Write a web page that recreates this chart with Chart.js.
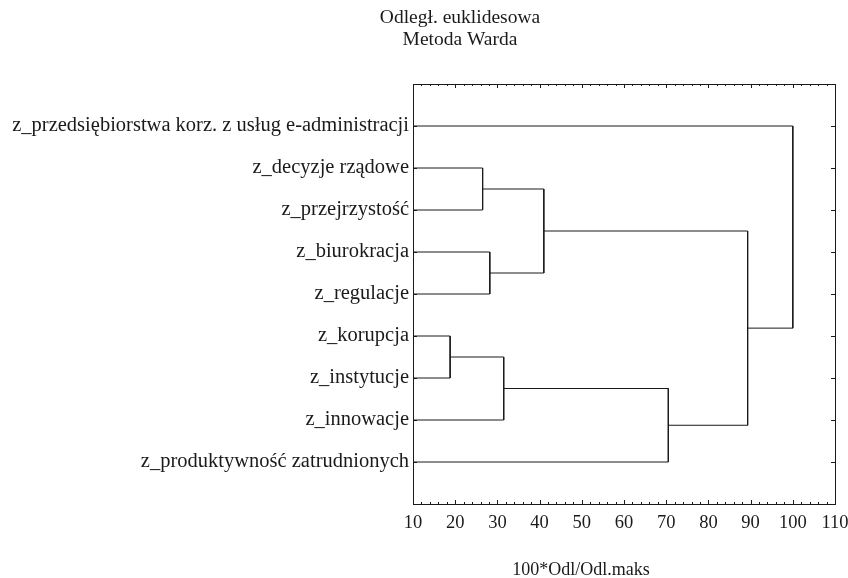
<!DOCTYPE html>
<html lang="pl">
<head>
<meta charset="UTF-8">
<title>Odległ. euklidesowa - Metoda Warda</title>
<script src="https://cdn.jsdelivr.net/npm/chart.js"></script>
<style>
  html, body { margin: 0; padding: 0; background: #fff; }
  #wrap { width: 848px; height: 578px; position: relative; }
</style>
</head>
<body>
<div id="wrap"><canvas id="dendro"></canvas></div>
<script>
  // liście w kolejności od góry
  const leaves = [
    'z_przedsiębiorstwa korz. z usług e-administracji',
    'z_decyzje rządowe',
    'z_przejrzystość',
    'z_biurokracja',
    'z_regulacje',
    'z_korupcja',
    'z_instytucje',
    'z_innowacje',
    'z_produktywność zatrudnionych'
  ];
  // połączenia: węzły 0-8 to liście, kolejne połączenia dostają numery 9, 10, ...
  const mergeLeft  = [5, 1, 3, 9, 10, 12, 13, 0];
  const mergeRight = [6, 2, 4, 7, 11, 8, 14, 15];
  const mergeDist  = [18.8, 26.5, 28.2, 31.5, 41.0, 70.5, 89.3, 100.0];
  const xTicks = [10, 20, 30, 40, 50, 60, 70, 80, 90, 100, 110];
  const titleLines = ['Odległ. euklidesowa', 'Metoda Warda'];
  const xTitle = '100*Odl/Odl.maks';

  const FONT = '"Liberation Serif", "DejaVu Serif", serif';
  const INK = '#1a1a1a';

  // pozycje węzłów
  const nodeY = leaves.map((_, i) => i + 1);
  const nodeH = leaves.map(() => xTicks[0]);
  const datasets = [];
  for (let k = 0; k < mergeDist.length; k++) {
    const a = mergeLeft[k], b = mergeRight[k], h = mergeDist[k];
    datasets.push({
      data: [
        { x: nodeH[a], y: nodeY[a] },
        { x: h, y: nodeY[a] },
        { x: h, y: nodeY[b] },
        { x: nodeH[b], y: nodeY[b] }
      ],
      showLine: true,
      borderColor: INK,
      borderWidth: 1,
      pointRadius: 0,
      tension: 0,
      fill: false
    });
    nodeY.push((nodeY[a] + nodeY[b]) / 2);
    nodeH.push(h);
  }

  // ramka, znaczniki do środka i napisy
  const ramka = {
    id: 'ramka',
    afterDraw(chart) {
      const { ctx, chartArea: ca, scales: { x, y } } = chart;
      ctx.save();
      ctx.strokeStyle = INK;
      ctx.lineWidth = 1;
      ctx.strokeRect(Math.round(ca.left) + 0.5, Math.round(ca.top) + 0.5,
        Math.round(ca.right - ca.left), Math.round(ca.bottom - ca.top));
      ctx.beginPath();
      for (let v = x.min; v <= x.max; v += 2) {
        const px = Math.round(x.getPixelForValue(v)) + 0.5;
        const len = (v % 10 === 0) ? 4 : 2;
        ctx.moveTo(px, ca.top); ctx.lineTo(px, ca.top + len);
        ctx.moveTo(px, ca.bottom); ctx.lineTo(px, ca.bottom - len);
      }
      leaves.forEach((_, i) => {
        const py = Math.round(y.getPixelForValue(i + 1)) + 0.5;
        ctx.moveTo(ca.left, py); ctx.lineTo(ca.left + 4, py);
        ctx.moveTo(ca.right, py); ctx.lineTo(ca.right - 4, py);
      });
      ctx.stroke();

      ctx.fillStyle = INK;
      ctx.textAlign = 'center';
      ctx.textBaseline = 'middle';
      ctx.font = '19.5px ' + FONT;
      titleLines.forEach((t, i) => ctx.fillText(t, 460, 18 + i * 22));
      ctx.font = '18px ' + FONT;
      ctx.fillText(xTitle, 581, 570);
      ctx.restore();
    }
  };

  new Chart(document.getElementById('dendro'), {
    type: 'scatter',
    data: { datasets },
    plugins: [ramka],
    options: {
      responsive: true,
      maintainAspectRatio: false,
      animation: false,
      layout: { padding: { top: 84, right: 13, bottom: 0, left: 0 } },
      plugins: {
        legend: { display: false },
        tooltip: { enabled: false },
        title: { display: false }
      },
      scales: {
        x: {
          type: 'linear',
          min: 10,
          max: 110,
          afterBuildTicks: s => { s.ticks = xTicks.map(v => ({ value: v })); },
          afterFit: s => { s.height = 74; s.paddingLeft = 0; s.paddingRight = 0; },
          grid: { display: false, drawTicks: false },
          border: { display: false },
          ticks: {
            color: INK,
            font: { family: FONT, size: 18.5 },
            padding: 8,
            maxRotation: 0,
            autoSkip: false
          }
        },
        y: {
          type: 'linear',
          min: 0,
          max: 10,
          reverse: true,
          afterBuildTicks: s => { s.ticks = leaves.map((_, i) => ({ value: i + 1 })); },
          afterFit: s => { s.width = 413; },
          grid: { display: false, drawTicks: false },
          border: { display: false },
          ticks: {
            color: INK,
            font: { family: FONT, size: 20.5 },
            padding: 4,
            autoSkip: false,
            callback: v => leaves[v - 1]
          }
        }
      }
    }
  });
</script>
</body>
</html>
